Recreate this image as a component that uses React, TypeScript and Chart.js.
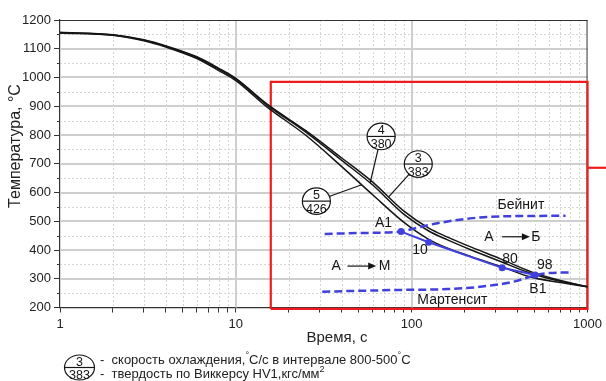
import React, { useEffect, useRef } from 'react';
import { Chart, registerables } from 'chart.js';

Chart.register(...registerables);

// ---------------- data ----------------
const timeC = [1, 2, 3, 4, 6, 8, 10, 15, 25, 40, 60, 90, 125, 160, 220, 320, 480, 700, 1000];
const curve5 = [1155, 1147, 1128, 1106, 1066, 1024, 989, 898, 799, 690, 592, 497, 437, 406, 376, 343, 305, 287, 272];
const curve4 = [1156, 1148, 1130, 1109, 1070, 1029, 994, 905, 810, 712, 626, 525, 466, 435, 399, 360, 318, 291, 272];
const curve3 = [1157, 1149, 1131, 1110, 1072, 1032, 997, 908, 815, 720, 636, 536, 476, 445, 409, 369, 324, 294, 272];

const bainiteT = [32, 50, 87, 105, 140, 215, 330, 750];
const bainiteTemp = [456, 459, 464, 476, 493, 510, 517, 519];
const martT = [31, 50, 83, 160, 245, 380, 497, 580, 790];
const martTemp = [255, 258, 261, 264, 272, 290, 311, 319, 322];

const pathT = [87, 125, 327, 504];
const pathTemp = [464, 427, 338, 313];

const redBoxT = [15.8, 15.8, 1000, 1000, 15.8];
const redBoxTemp = [195, 985, 985, 195, 195];
const redLinkT = [1000, 1300];
const redLinkTemp = [686, 686];

const xTicks = [1, 2, 3, 4, 5, 6, 7, 8, 9, 10, 20, 30, 40, 50, 60, 70, 80, 90, 100, 200, 300, 400, 500, 600, 700, 800, 900, 1000];
const xMajorTicks = [1, 10, 100, 1000];
const yTicks = [200, 250, 300, 350, 400, 450, 500, 550, 600, 650, 700, 750, 800, 850, 900, 950, 1000, 1050, 1100, 1150, 1200];
const yLabelTicks = [200, 300, 400, 500, 600, 700, 800, 900, 1000, 1100, 1200];

const circleTop = ['5', '4', '3'];
const circleBottom = ['426', '380', '383'];
const circleT = [28.7, 67, 109];
const circleTemp = [570, 795, 699];
const pointerT = [52, 58, 74];
const pointerTemp = [627, 633, 585];

const labelText = ['A1', '10', '80', '98', 'B1', 'Бейнит', 'Мартенсит'];
const labelT = [69.2, 111.6, 362, 571, 522, 418, 170.4];
const labelTemp = [494, 400, 369, 348, 264, 556, 226];

const arrowFromText = ['А', 'А'];
const arrowToText = ['Б', 'М'];
const arrowFromT = [274.8, 37.2];
const arrowStartT = [326.6, 43.1];
const arrowEndT = [470, 62.8];
const arrowToT = [508.5, 70.1];
const arrowTemp = [446, 344];

const xTitle = 'Время, с';
const yTitle = 'Температура, °C';
const legendTop = '3';
const legendBottom = '383';

// ---------------- styles ----------------
const FAMILY = '"Liberation Sans", Arial, sans-serif';
const BLUE = '#4040dd';
const BLACK = '#151515';
const RED = '#ee1c1c';
const f = (s: number) => `${s}px ${FAMILY}`;

const pts = (xs: number[], ys: number[]) => xs.map((v, i) => ({ x: v, y: ys[i] }));

function drawRich(ctx: CanvasRenderingContext2D, parts: { t: string; sup?: boolean }[], x: number, y: number, size: number) {
  let cx = x;
  ctx.textAlign = 'left';
  ctx.textBaseline = 'alphabetic';
  for (const p of parts) {
    if (p.sup) {
      ctx.font = f(size * 0.7);
      ctx.fillText(p.t, cx, y - size * 0.42);
    } else {
      ctx.font = f(size);
      ctx.fillText(p.t, cx, y);
    }
    cx += ctx.measureText(p.t).width;
  }
}

const overlay = {
  id: 'overlay',
  beforeDatasetsDraw(chart: any) {
    const { ctx, chartArea: a, scales } = chart;
    const xs = scales.x;
    const ys = scales.y;
    ctx.save();
    // minor grid (dashed)
    ctx.lineWidth = 1;
    ctx.setLineDash([2, 2]);
    ctx.strokeStyle = '#d6d6d6';
    ctx.beginPath();
    xTicks.forEach((v) => {
      if (xMajorTicks.includes(v)) return;
      const px = Math.round(xs.getPixelForValue(v)) + 0.5;
      ctx.moveTo(px, a.top);
      ctx.lineTo(px, a.bottom);
    });
    yTicks.forEach((v) => {
      if (yLabelTicks.includes(v)) return;
      const py = Math.round(ys.getPixelForValue(v)) + 0.5;
      ctx.moveTo(a.left, py);
      ctx.lineTo(a.right, py);
    });
    ctx.stroke();
    // major grid (solid)
    ctx.setLineDash([]);
    ctx.lineWidth = 2;
    ctx.strokeStyle = '#cfcfcf';
    ctx.beginPath();
    xTicks.forEach((v) => {
      if (!xMajorTicks.includes(v) || v === 1 || v === 1000) return;
      const px = Math.round(xs.getPixelForValue(v));
      ctx.moveTo(px, a.top);
      ctx.lineTo(px, a.bottom);
    });
    yTicks.forEach((v) => {
      if (!yLabelTicks.includes(v) || v === 200 || v === 1200) return;
      const py = Math.round(ys.getPixelForValue(v));
      ctx.moveTo(a.left, py);
      ctx.lineTo(a.right, py);
    });
    ctx.stroke();
    // minor y ticks and frame
    ctx.lineWidth = 1;
    ctx.strokeStyle = '#333';
    ctx.beginPath();
    yTicks.forEach((v) => {
      if (!yLabelTicks.includes(v)) {
        const py = Math.round(ys.getPixelForValue(v)) + 0.5;
        ctx.moveTo(a.left - 3, py);
        ctx.lineTo(a.left, py);
      }
    });
    ctx.moveTo(a.left, a.top + 0.5);
    ctx.lineTo(a.right, a.top + 0.5);
    ctx.moveTo(a.right - 0.5, a.top);
    ctx.lineTo(a.right - 0.5, a.bottom);
    ctx.stroke();
    ctx.restore();
  },
  afterDatasetsDraw(chart: any) {
    const { ctx, scales } = chart;
    const X = (t: number) => scales.x.getPixelForValue(t);
    const Y = (v: number) => scales.y.getPixelForValue(v);
    ctx.save();
    ctx.strokeStyle = BLACK;
    ctx.fillStyle = BLACK;

    // circled annotations with leader lines
    for (let i = 0; i < circleT.length; i++) {
      const cx = X(circleT[i]);
      const cy = Y(circleTemp[i]);
      const ex = X(pointerT[i]);
      const ey = Y(pointerTemp[i]);
      const dx = ex - cx;
      const dy = ey - cy;
      const d = Math.hypot(dx, dy);
      ctx.lineWidth = 1.2;
      ctx.beginPath();
      ctx.moveTo(cx + (dx / d) * 13.5, cy + (dy / d) * 13.5);
      ctx.lineTo(ex, ey);
      ctx.stroke();
      ctx.beginPath();
      ctx.ellipse(cx, cy, 14, 13.3, 0, 0, Math.PI * 2);
      ctx.fillStyle = '#fff';
      ctx.fill();
      ctx.stroke();
      ctx.beginPath();
      ctx.moveTo(cx - 14, cy);
      ctx.lineTo(cx + 14, cy);
      ctx.stroke();
      ctx.fillStyle = BLACK;
      ctx.font = f(12.5);
      ctx.textAlign = 'center';
      ctx.textBaseline = 'alphabetic';
      ctx.fillText(circleTop[i], cx, cy - 2);
      ctx.fillText(circleBottom[i], cx, cy + 11.5);
    }

    // text labels
    ctx.font = f(14);
    ctx.textAlign = 'center';
    ctx.textBaseline = 'middle';
    for (let i = 0; i < labelText.length; i++) {
      ctx.fillText(labelText[i], X(labelT[i]), Y(labelTemp[i]));
    }

    // arrows
    for (let i = 0; i < arrowFromText.length; i++) {
      const yy = Y(arrowTemp[i]);
      ctx.font = f(14);
      ctx.textAlign = 'center';
      ctx.textBaseline = 'middle';
      ctx.fillText(arrowFromText[i], X(arrowFromT[i]), yy);
      ctx.fillText(arrowToText[i], X(arrowToT[i]), yy);
      const x1 = X(arrowStartT[i]);
      const x2 = X(arrowEndT[i]);
      ctx.lineWidth = 1.2;
      ctx.beginPath();
      ctx.moveTo(x1, yy);
      ctx.lineTo(x2 - 6, yy);
      ctx.stroke();
      ctx.beginPath();
      ctx.moveTo(x2, yy);
      ctx.lineTo(x2 - 8, yy - 3.5);
      ctx.lineTo(x2 - 8, yy + 3.5);
      ctx.closePath();
      ctx.fill();
    }

    // axis titles
    ctx.fillStyle = '#222';
    ctx.font = f(15);
    ctx.textAlign = 'center';
    ctx.textBaseline = 'alphabetic';
    ctx.fillText(xTitle, 337, 342);
    ctx.save();
    ctx.translate(16, 146);
    ctx.rotate(-Math.PI / 2);
    ctx.font = f(16);
    ctx.textBaseline = 'middle';
    ctx.fillText(yTitle, 0, 0);
    ctx.restore();

    // legend (bottom)
    ctx.strokeStyle = BLACK;
    ctx.lineWidth = 1.2;
    const lx = 79.5;
    const ly = 367.5;
    ctx.beginPath();
    ctx.ellipse(lx, ly, 15, 12.5, 0, 0, Math.PI * 2);
    ctx.stroke();
    ctx.beginPath();
    ctx.moveTo(lx - 15, ly);
    ctx.lineTo(lx + 15, ly);
    ctx.stroke();
    ctx.fillStyle = BLACK;
    ctx.font = f(12.5);
    ctx.textAlign = 'center';
    ctx.fillText(legendTop, lx, ly - 2);
    ctx.fillText(legendBottom, lx, ly + 11);
    ctx.fillStyle = '#222';
    drawRich(ctx, [
      { t: '-  скорость охлаждения,' },
      { t: '°', sup: true },
      { t: 'C/c в интервале 800-500' },
      { t: '°', sup: true },
      { t: 'C' },
    ], 100, 363.5, 13);
    drawRich(ctx, [
      { t: '-  твердость по Виккерсу HV1,кгс/мм' },
      { t: '2', sup: true },
    ], 100, 377.5, 13);
    ctx.restore();
  },
};

export default function App() {
  const ref = useRef<HTMLCanvasElement>(null);
  useEffect(() => {
    document.body.style.margin = '0';
    Chart.defaults.font.family = FAMILY;
    Chart.defaults.color = '#222';
    const chart = new Chart(ref.current as HTMLCanvasElement, {
      type: 'line',
      data: {
        datasets: [
          {
            label: 'path',
            data: pts(pathT, pathTemp),
            borderColor: BLUE,
            backgroundColor: BLUE,
            borderWidth: 2,
            pointRadius: 3.5,
            pointBorderWidth: 0,
            pointBackgroundColor: BLUE,
            tension: 0,
          },
          {
            label: 'bainite',
            data: pts(bainiteT, bainiteTemp),
            borderColor: BLUE,
            borderWidth: 2.5,
            borderDash: [8, 4],
            pointRadius: 0,
            cubicInterpolationMode: 'monotone',
          },
          {
            label: 'martensite',
            data: pts(martT, martTemp),
            borderColor: BLUE,
            borderWidth: 2.5,
            borderDash: [8, 4],
            pointRadius: 0,
            cubicInterpolationMode: 'monotone',
          },
          {
            label: '5/426',
            data: pts(timeC, curve5),
            borderColor: BLACK,
            borderWidth: 1.5,
            pointRadius: 0,
            cubicInterpolationMode: 'monotone',
          },
          {
            label: '4/380',
            data: pts(timeC, curve4),
            borderColor: BLACK,
            borderWidth: 1.5,
            pointRadius: 0,
            cubicInterpolationMode: 'monotone',
          },
          {
            label: '3/383',
            data: pts(timeC, curve3),
            borderColor: BLACK,
            borderWidth: 1.5,
            pointRadius: 0,
            cubicInterpolationMode: 'monotone',
          },
          {
            label: 'box',
            data: pts(redBoxT, redBoxTemp),
            borderColor: RED,
            borderWidth: 2.2,
            pointRadius: 0,
            tension: 0,
            clip: false,
          },
          {
            label: 'link',
            data: pts(redLinkT, redLinkTemp),
            borderColor: RED,
            borderWidth: 2.2,
            pointRadius: 0,
            tension: 0,
            clip: false,
          },
        ] as any,
      },
      options: {
        responsive: false,
        animation: false,
        devicePixelRatio: 1,
        events: [],
        layout: { padding: { left: 0, right: 15, top: 20, bottom: 0 } },
        plugins: { legend: { display: false }, tooltip: { enabled: false }, title: { display: false } },
        scales: {
          x: {
            type: 'logarithmic',
            min: 1,
            max: 1000,
            afterBuildTicks: (s: any) => {
              s.ticks = xTicks.map((v) => ({ value: v, major: false }));
            },
            afterFit: (s: any) => {
              s.height = 73.5;
            },
            ticks: {
              autoSkip: false,
              maxRotation: 0,
              minRotation: 0,
              padding: 4,
              font: { size: 13 },
              color: '#222',
              callback: (v: any) => (xMajorTicks.includes(Number(v)) ? String(v) : ''),
            },
            grid: {
              drawOnChartArea: false,
              tickLength: 5,
              tickColor: '#333',
              tickWidth: 1,
            },
            border: { display: true, color: '#333', width: 1.2 },
          },
          y: {
            type: 'linear',
            min: 200,
            max: 1200,
            afterBuildTicks: (s: any) => {
              s.ticks = yTicks.map((v) => ({ value: v }));
            },
            afterFit: (s: any) => {
              s.width = 60;
            },
            ticks: {
              autoSkip: false,
              padding: 3,
              font: { size: 13 },
              color: '#222',
              callback: (v: any) => (yLabelTicks.includes(Number(v)) ? String(v) : ''),
            },
            grid: {
              drawOnChartArea: false,
              tickLength: 6,
              tickColor: (c: any) => (c.tick && yLabelTicks.includes(c.tick.value) ? '#333' : 'rgba(0,0,0,0)'),
              tickWidth: 1,
            },
            border: { display: true, color: '#333', width: 1.2 },
          },
        },
      } as any,
      plugins: [overlay],
    });
    return () => chart.destroy();
  }, []);
  return (
    <div style={{ width: 606, height: 381, overflow: 'hidden', background: '#fff' }}>
      <canvas ref={ref} width={606} height={381} style={{ display: 'block' }} />
    </div>
  );
}
